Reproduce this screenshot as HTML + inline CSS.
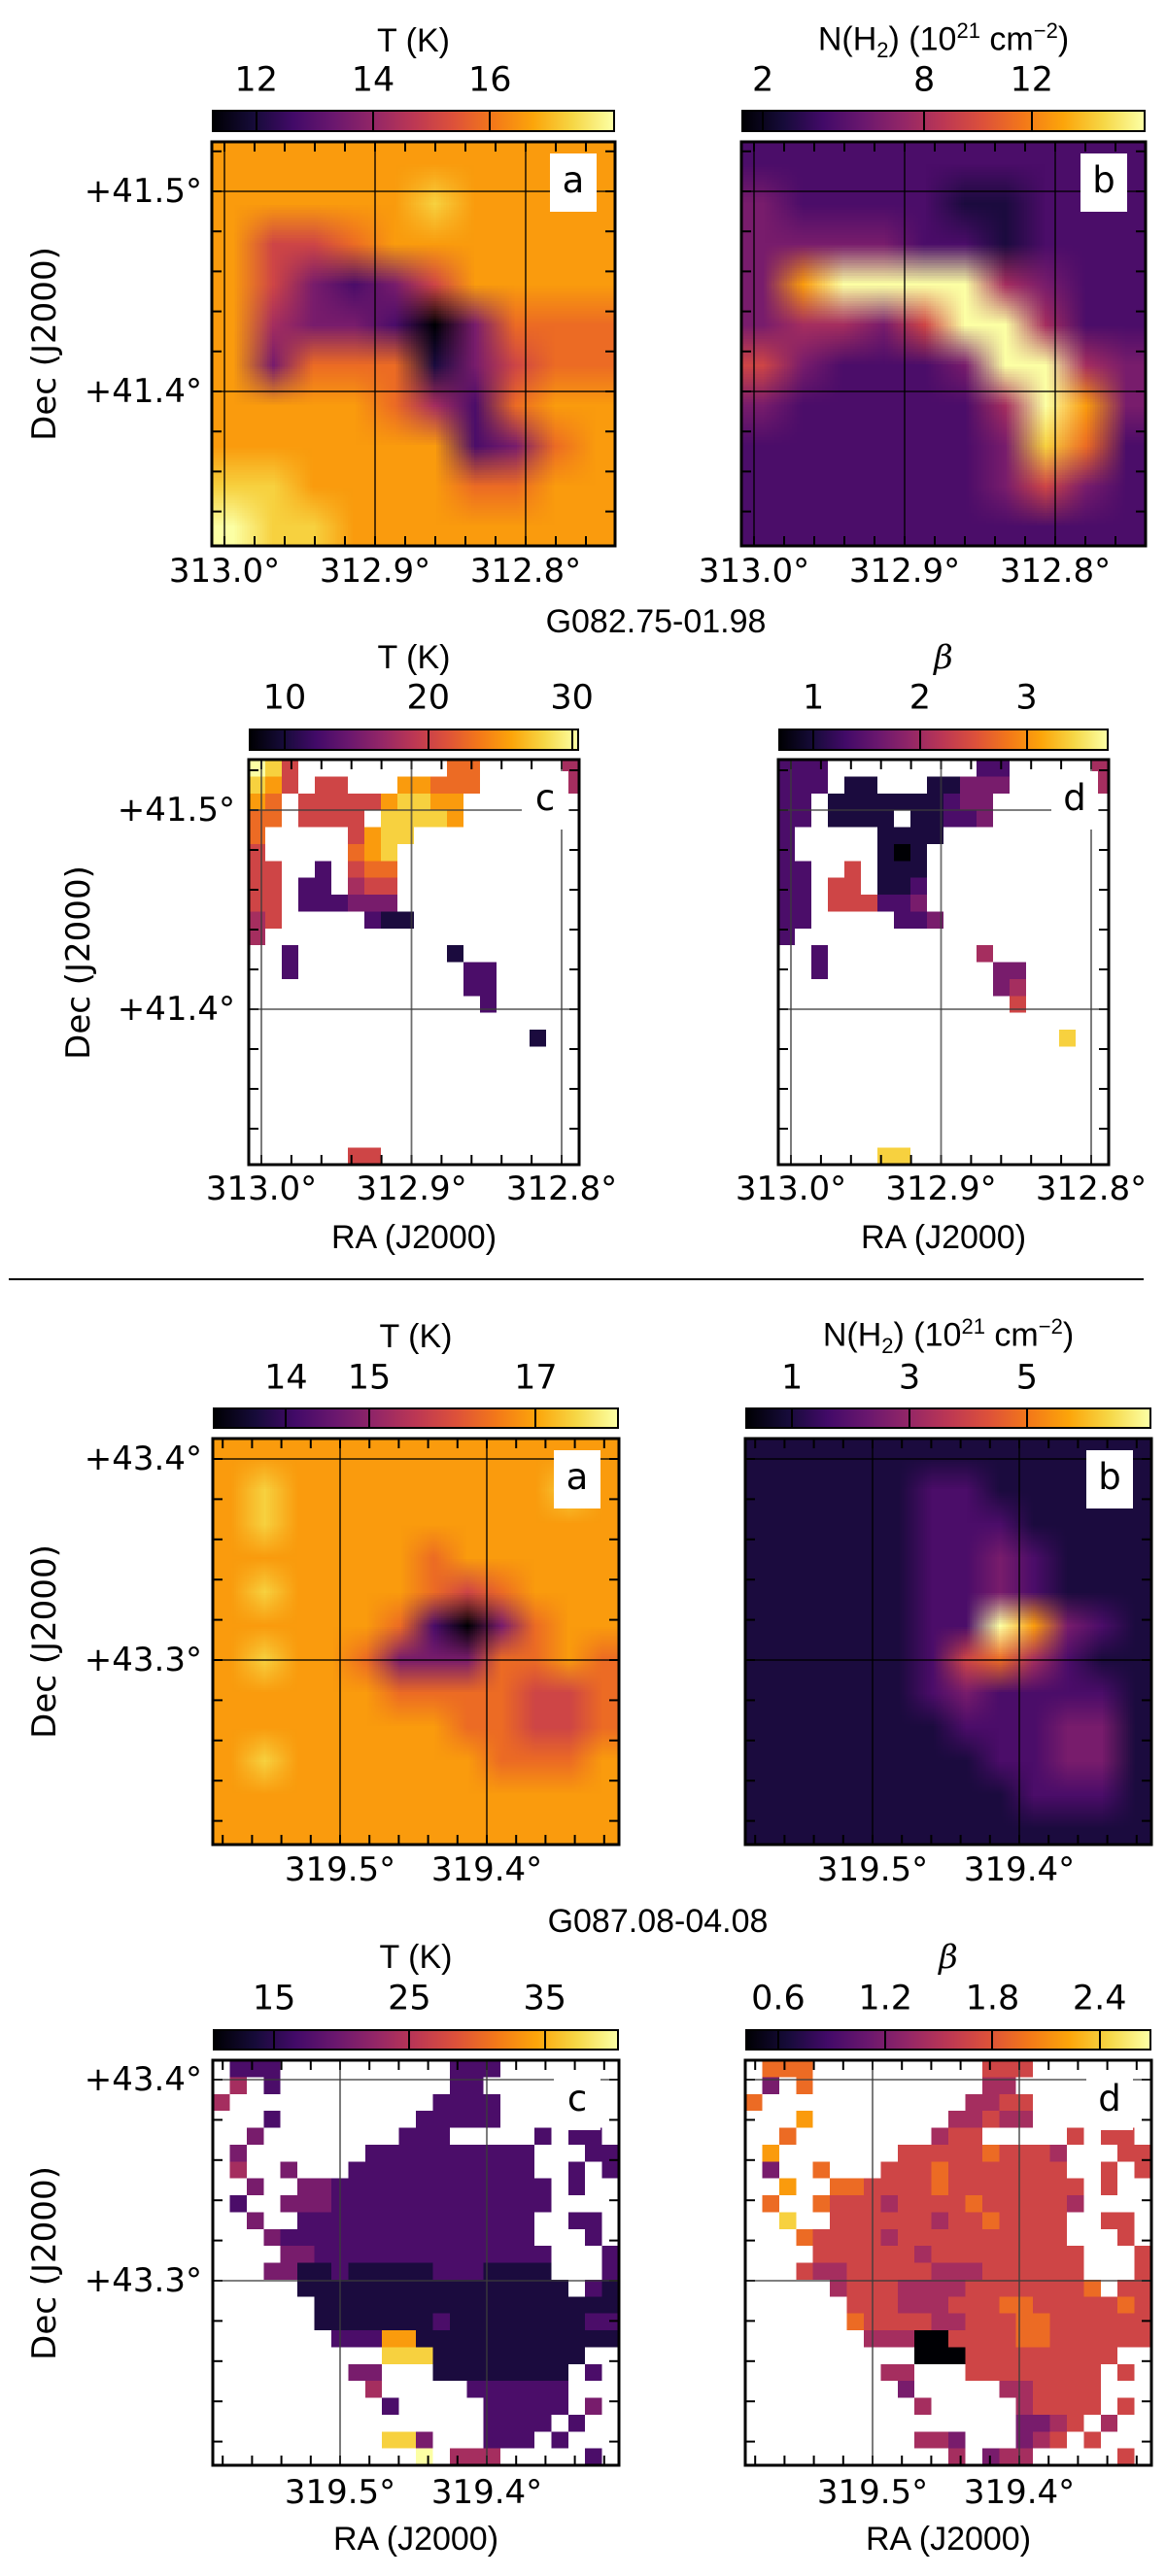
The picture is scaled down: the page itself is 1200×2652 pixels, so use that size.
<!DOCTYPE html>
<html><head><meta charset="utf-8">
<style>
html,body{margin:0;padding:0;background:#fff;}
#root{position:relative;width:1200px;height:2652px;background:#fff;overflow:hidden;font-family:"DejaVu Sans","Liberation Sans",sans-serif;color:#000;}
.t{position:absolute;line-height:1;white-space:nowrap;}
canvas{position:absolute;}
</style></head>
<body>
<div id="root">
  <div class="t" style="left:675px;top:640px;font-size:34px;transform:translate(-50%,-50%);font-family:'Liberation Sans',sans-serif;">G082.75-01.98</div>
  <div class="t" style="left:677px;top:1978px;font-size:34px;transform:translate(-50%,-50%);font-family:'Liberation Sans',sans-serif;">G087.08-04.08</div>
  <div style="position:absolute;left:9px;top:1316px;width:1168px;height:2px;background:#000;"></div>
</div>
<script>
// ---- data: colour levels 0-9 (level/9 = position on colourbar), '.' = masked ----
const map1a = ["7777777777","7777787777","7556777777","7532357777","7433203666","7366613566","7777642677","7777772367","8877776677","9887777777"];
const map1b = ["2222222222","3222211222","3333221222","3799994322","3443599422","5322239943","3222224973","2222223862","2222223532","2222222222"];
const map1c = ["985.........66.....4","875.55...77666.....4","76.5555578877.......","66.5555.88887.......","6.....5788..........","5.....678...........","55..2.566...........","55.22.455...........","55.222333...........","45.....211..........","4...................","..2.........1.......","..2..........22.....",".............22.....","..............2.....","....................",".................1..","....................","....................","....................","....................","....................","....................","......55............"];
const map1d = ["222.........22.....4","222.11...11333.....4","22.1111111233.......","22.1111.11223.......","2.....1111..........","2.....101...........","22..5.111...........","22.55.112...........","22.555223...........","22.....223..........","2...................","..2.........4.......","..2..........33.....",".............34.....","..............5.....","....................",".................8..","....................","....................","....................","....................","....................","....................","......88............"];
const map2a = ["777777777777","787777777787","787777777777","777777677777","787777656777","777776203677","787763336676","777776666556","777777766556","787777776667","777777777777","777777777777"];
const map2b = ["111111111111","111112211111","111112221111","111112232111","111112232111","111112297321","111112564211","111112322221","111111222331","111111122331","111111112221","111111111111"];
const map2c = [".222..........222.......",".4.2..........22........","4............2222.......","...2........22222.......","..3........222.....2.22.",".3.......2222222222...22",".4..3...22222222222..2.2","..3..332222222222222.2..",".2..3332222222222222....","..3..22222222222222..22.","...3222222222222222...2.","....3322222222222222...2","...33112111112221111...2",".....1111111111111111.21","......111111111111111111","......111111121111111122",".......22277111111111111","..........888111111111..","........33...11111111.2.",".........4.....222222...","..........2.....22222.3.","................2222.2..","..........883...222.2...","............9.444.....2."];
const map2d = [".666..........555.......",".3.6..........44........","6............4455.......","...7........44544.......","..6........455.....5.55.",".7.......5555565554...55",".3..6...55565555555..5.5","..7..665555655555555.5..",".6..6555455556555554....","..8..55555545565555..55.","...6555545555555555...5.","....5555554555555555...5","...54455555444555555...5",".....4555444455555556.55","......555444555665555565","......655554455566555555",".......44400555566555555","..........000555555555..","........44...55555555.5.",".........3.....445555...","..........4.....45555.5.","................3345.4..","..........443...345.5...","............4.344.....5."];
// colourbar tick values and domains
const cb1aTicks = [12, 14, 16];       const cb1aDomain = [11.24, 18.14];
const cb1bTicks = [2, 8, 12];         const cb1bDomain = [1.2, 16.24];
const cb1cTicks = [10, 20, 30];       const cb1cDomain = [7.5, 30.5];
const cb1dTicks = [1, 2, 3];          const cb1dDomain = [0.67, 3.77];
const cb2aTicks = [14, 15, 17];       const cb2aDomain = [13.12, 18.0];
const cb2bTicks = [1, 3, 5];          const cb2bDomain = [0.204, 7.12];
const cb2cTicks = [15, 25, 35];       const cb2cDomain = [10.47, 40.47];
const cb2dTicks = [0.6, 1.2, 1.8, 2.4]; const cb2dDomain = [0.415, 2.69];
const cb2dLabels = ["0.6", "1.2", "1.8", "2.4"];
// axis ticks
const ra1Ticks = [313.0, 312.9, 312.8];
const ra1Labels = ["313.0°", "312.9°", "312.8°"];
const dec1Ticks = [41.5, 41.4];
const dec1Labels = ["+41.5°", "+41.4°"];
const ra2Ticks = [319.5, 319.4];
const ra2Labels = ["319.5°", "319.4°"];
const dec2Ticks = [43.4, 43.3];
const dec2Labels = ["+43.4°", "+43.3°"];

const INF=[[0,0,4],[22,11,57],[66,10,104],[106,23,110],[147,38,103],[188,55,84],[221,81,58],[243,120,25],[252,165,10],[246,215,70],[252,255,164]];
function cmap(f){f=Math.max(0,Math.min(1,f));const p=f*10,i=Math.min(9,Math.floor(p)),t=p-i;return INF[i].map((c,k)=>Math.round(c+(INF[i+1][k]-c)*t));}
const grad = INF.map((c,i)=>`rgb(${c[0]},${c[1]},${c[2]}) ${i*10}%`).join(',');
const root = document.getElementById('root');
const NS='http://www.w3.org/2000/svg';

function txt(html,x,y,size,anchor,fam,style){
  const d=document.createElement('div');
  d.className='t';
  d.style.cssText=`left:${x}px;top:${y}px;font-size:${size}px;transform:translate(${anchor==='right'?'-100%':'-50%'},-50%);font-family:${fam||'"DejaVu Sans",sans-serif'};${style||''}`;
  d.innerHTML=html;
  root.appendChild(d);
  return d;
}
function sline(svg,x1,y1,x2,y2,color,w){
  const l=document.createElementNS(NS,'line');
  l.setAttribute('x1',x1);l.setAttribute('y1',y1);l.setAttribute('x2',x2);l.setAttribute('y2',y2);
  l.setAttribute('stroke',color);l.setAttribute('stroke-width',w);
  svg.appendChild(l);
  return l;
}

function panel(P){
  const cb=document.createElement('div');
  cb.style.cssText=`position:absolute;left:${P.x}px;top:${P.cbY}px;width:${P.w}px;height:${P.cbH}px;border:2px solid #000;box-sizing:border-box;background:linear-gradient(to right,${grad});`;
  
  
  root.appendChild(cb);
  P.cbTicks.forEach((v,i)=>{
    const f=(v-P.dom[0])/(P.dom[1]-P.dom[0]);
    const px=P.x+f*P.w;
    const tk=document.createElement('div');
    tk.style.cssText=`position:absolute;left:${px-1}px;top:${P.cbY}px;width:2px;height:${P.cbH}px;background:#000;`;
    
    
    root.appendChild(tk);
    const lb=txt(P.cbLabels?P.cbLabels[i]:String(v),px,P.cbLabY,35);
    
    
  });
  const ti=txt(P.title,P.x+P.w/2,P.titleY,34,'center',P.titleFam||'"Liberation Sans",sans-serif');
  
  

  const rows=P.data, nr=rows.length, nc=rows[0].length;
  const cv=document.createElement('canvas');
  cv.width=nc; cv.height=nr;
  cv.style.cssText=`left:${P.x}px;top:${P.y}px;width:${P.w}px;height:${P.h}px;image-rendering:${P.smooth?'auto':'pixelated'};`;
  
  
  const ctx=cv.getContext('2d');
  for(let r=0;r<nr;r++)for(let c=0;c<nc;c++){
    const ch=rows[r][c]; if(ch==='.')continue;
    const col=cmap(parseInt(ch,10)/9);
    ctx.fillStyle=`rgb(${col[0]},${col[1]},${col[2]})`;
    ctx.fillRect(c,r,1,1);
  }
  root.appendChild(cv);

  const svg=document.createElementNS(NS,'svg');
  svg.setAttribute('width',P.w);svg.setAttribute('height',P.h);
  svg.style.cssText=`position:absolute;left:${P.x}px;top:${P.y}px;overflow:visible;`;
  
  
  root.appendChild(svg);
  for(let k=-20;k<=20;k++){
    const ra=P.raTicks[0]-k*0.02, x=P.raX(ra);
    if(x>3&&x<P.w-3){sline(svg,x,0,x,10,'#000',2);sline(svg,x,P.h,x,P.h-10,'#000',2);}
    const de=P.decTicks[0]-k*0.02, y=P.decY(de);
    if(y>3&&y<P.h-3){sline(svg,0,y,10,y,'#000',2);sline(svg,P.w,y,P.w-10,y,'#000',2);}
  }
  P.raTicks.forEach((ra,i)=>{
    const x=P.raX(ra);
    const g=sline(svg,x,0,x,P.h,P.gridColor,1.8);
    
    if(P.showRaLabels){
      const l=txt(P.raLabels[i],P.x+x,P.raLabY,34);
      
      
    }
  });
  P.decTicks.forEach((de,i)=>{
    const y=P.decY(de);
    const g=sline(svg,0,y,P.w,y,P.gridColor,1.8);
    
    if(P.showDec){
      const l=txt(P.decLabels[i],P.decLabX,P.y+y,34,'right');
      
      
    }
  });
  const fr=document.createElementNS(NS,'rect');
  fr.setAttribute('x',0);fr.setAttribute('y',0);fr.setAttribute('width',P.w);fr.setAttribute('height',P.h);
  fr.setAttribute('fill','none');fr.setAttribute('stroke','#000');fr.setAttribute('stroke-width',3);
  
  svg.appendChild(fr);
  const bx=document.createElement('div');
  bx.style.cssText=`position:absolute;left:${P.x+P.w-P.boxR-48}px;top:${P.y+12}px;width:48px;height:60px;background:#fff;font-size:37px;line-height:56px;text-align:center;`;
  bx.textContent=P.letter;
  
  
  root.appendChild(bx);
  if(P.showDec){
    const d=txt('Dec (J2000)',P.decTitleX,P.y+P.h/2,34,'center','"DejaVu Sans",sans-serif','transform:translate(-50%,-50%) rotate(-90deg);');
    
    
  }
  if(P.raTitleY){
    const d=txt('RA (J2000)',P.x+P.w/2,P.raTitleY,34,'center','"Liberation Sans",sans-serif');
    
    
  }
}

const T_TITLE='T (K)';
const N_TITLE='N(H<sub style="font-size:22px">2</sub>) (10<sup style="font-size:22px">21</sup> cm<sup style="font-size:22px">−2</sup>)';
const B_TITLE='<i>β</i>';
const ra1x=(ra)=>13+(313.0-ra)*1550, dec1y=(d)=>51+(41.5-d)*2060;
const ra1cx=(ra)=>13+(313.0-ra)*1545, dec1cy=(d)=>52+(41.5-d)*2050;
const ra2x=(ra)=>131+(319.5-ra)*1510, dec2y=(d)=>21+(43.4-d)*2070, dec2cy=(d)=>20+(43.4-d)*2070;

const common1={raTicks:ra1Ticks,raLabels:ra1Labels,decTicks:dec1Ticks,decLabels:dec1Labels,showRaLabels:true};
const common2={raTicks:ra2Ticks,raLabels:ra2Labels,decTicks:dec2Ticks,decLabels:dec2Labels,showRaLabels:true};

panel(Object.assign({id:'g082-a',x:218,y:146,w:415,h:416,cbY:113,cbH:23,cbLabY:83,titleY:42,title:T_TITLE,cbTicks:cb1aTicks,dom:cb1aDomain,data:map1a,smooth:true,raX:ra1x,decY:dec1y,raLabY:588,showDec:true,decLabX:208,decTitleX:46,gridColor:'rgba(0,0,0,0.75)',letter:'a',boxR:19},common1));
panel(Object.assign({id:'g082-b',x:763,y:146,w:416,h:416,cbY:113,cbH:23,cbLabY:83,titleY:42,title:N_TITLE,cbTicks:cb1bTicks,dom:cb1bDomain,data:map1b,smooth:true,raX:ra1x,decY:dec1y,raLabY:588,showDec:false,gridColor:'rgba(0,0,0,0.75)',letter:'b',boxR:19},common1));
panel(Object.assign({id:'g082-c',x:256,y:782,w:340,h:417,cbY:750,cbH:23,cbLabY:719,titleY:677,title:T_TITLE,cbTicks:cb1cTicks,dom:cb1cDomain,data:map1c,smooth:false,raX:ra1cx,decY:dec1cy,raLabY:1224,raTitleY:1274,showDec:true,decLabX:242,decTitleX:81,gridColor:'rgba(60,60,60,0.75)',letter:'c',boxR:11},common1));
panel(Object.assign({id:'g082-d',x:801,y:782,w:340,h:417,cbY:750,cbH:23,cbLabY:719,titleY:677,title:B_TITLE,titleFam:'"DejaVu Serif",serif',cbTicks:cb1dTicks,dom:cb1dDomain,data:map1d,smooth:false,raX:ra1cx,decY:dec1cy,raLabY:1224,raTitleY:1274,showDec:false,gridColor:'rgba(60,60,60,0.75)',letter:'d',boxR:11},common1));
panel(Object.assign({id:'g087-a',x:219,y:1481,w:418,h:418,cbY:1449,cbH:22,cbLabY:1419,titleY:1376,title:T_TITLE,cbTicks:cb2aTicks,dom:cb2aDomain,data:map2a,smooth:true,raX:ra2x,decY:dec2y,raLabY:1925,showDec:true,decLabX:208,decTitleX:46,gridColor:'rgba(0,0,0,0.75)',letter:'a',boxR:19},common2));
panel(Object.assign({id:'g087-b',x:767,y:1481,w:418,h:418,cbY:1449,cbH:22,cbLabY:1419,titleY:1376,title:N_TITLE,cbTicks:cb2bTicks,dom:cb2bDomain,data:map2b,smooth:true,raX:ra2x,decY:dec2y,raLabY:1925,showDec:false,gridColor:'rgba(0,0,0,0.75)',letter:'b',boxR:19},common2));
panel(Object.assign({id:'g087-c',x:219,y:2121,w:418,h:417,cbY:2089,cbH:22,cbLabY:2058,titleY:2015,title:T_TITLE,cbTicks:cb2cTicks,dom:cb2cDomain,data:map2c,smooth:false,raX:ra2x,decY:dec2cy,raLabY:2566,raTitleY:2614,showDec:true,decLabX:208,decTitleX:46,gridColor:'rgba(60,60,60,0.75)',letter:'c',boxR:19},common2));
panel(Object.assign({id:'g087-d',x:767,y:2121,w:418,h:417,cbY:2089,cbH:22,cbLabY:2058,titleY:2015,title:B_TITLE,titleFam:'"DejaVu Serif",serif',cbTicks:cb2dTicks,cbLabels:cb2dLabels,dom:cb2dDomain,data:map2d,smooth:false,raX:ra2x,decY:dec2cy,raLabY:2566,raTitleY:2614,showDec:false,gridColor:'rgba(60,60,60,0.75)',letter:'d',boxR:19},common2));
</script>
</body></html>
